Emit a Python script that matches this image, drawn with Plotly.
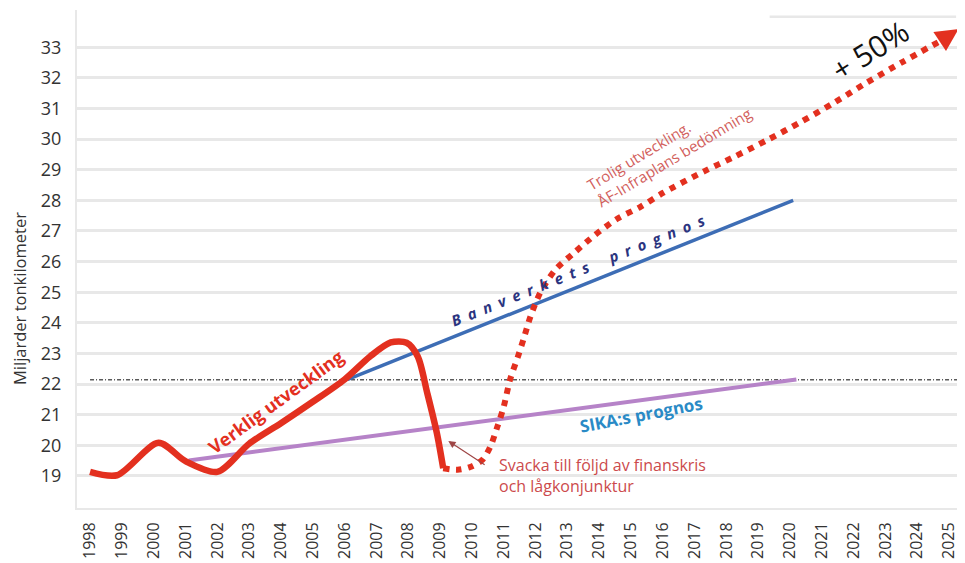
import plotly.graph_objects as go

# ---- data ----
years = list(range(1998, 2026))
year_labels = [str(y) for y in years]
y_ticks = list(range(19, 34))

actual_x = [1998.0, 1998.85, 2000.15, 2001.0, 2002.0, 2003.0, 2004.0, 2005.0, 2006.0,
            2006.8, 2007.45, 2007.95, 2008.3, 2008.6, 2008.9, 2009.1]
actual_y = [19.13, 19.02, 20.08, 19.48, 19.13, 20.05, 20.72, 21.42, 22.15,
            22.9, 23.36, 23.35, 22.9, 21.7, 20.4, 19.25]

likely_x = [2009.1, 2009.55, 2009.95, 2010.33, 2010.58, 2010.8, 2011.0, 2011.2, 2011.45,
            2011.65, 2011.84, 2012.15, 2012.62, 2013.25, 2013.88, 2014.57, 2015.3, 2016.02,
            2017.3, 2018.2, 2019.3, 2020.3, 2021.4, 2022.4, 2023.5, 2024.75]
likely_y = [19.25, 19.2, 19.29, 19.52, 19.95, 20.6, 21.25, 22.14, 22.9,
            23.55, 24.2, 24.98, 25.73, 26.32, 26.88, 27.4, 27.79, 28.25,
            28.95, 29.4, 29.98, 30.54, 31.2, 31.84, 32.5, 33.22]
arrow_tip = (2025.3, 33.6)

banverket_x = [2006.1, 2020.1]
banverket_y = [22.15, 28.0]

sika_x = [2001.1, 2020.2]
sika_y = [19.5, 22.15]

ref_level = 22.14

RED = "#e3301f"
BLUE = "#3d6db5"
PURPLE = "#b683c8"
FONT = "Open Sans"

fig = go.Figure()

# reference dotted level
fig.add_trace(go.Scatter(x=[1998.0, 2025.3], y=[ref_level, ref_level], mode="lines",
                         line=dict(color="#5a5a5a", width=1.3, dash="4px,2px,1px,2px"),
                         hoverinfo="skip", showlegend=False))
fig.add_trace(go.Scatter(x=sika_x, y=sika_y, mode="lines",
                         line=dict(color=PURPLE, width=4), showlegend=False))
fig.add_trace(go.Scatter(x=banverket_x, y=banverket_y, mode="lines",
                         line=dict(color=BLUE, width=3.5), showlegend=False))
fig.add_trace(go.Scatter(x=likely_x, y=likely_y, mode="lines",
                         line=dict(color=RED, width=6, dash="6px,6.5px", shape="spline", smoothing=0.8),
                         showlegend=False))
fig.add_trace(go.Scatter(x=actual_x, y=actual_y, mode="lines",
                         line=dict(color=RED, width=6.5, shape="spline", smoothing=0.8),
                         showlegend=False))

ann = []
ann.append(dict(x=arrow_tip[0], y=arrow_tip[1], ax=likely_x[-1], ay=likely_y[-1],
                xref="x", yref="y", axref="x", ayref="y", text="", showarrow=True,
                arrowhead=2, arrowsize=1.3, arrowwidth=3.5, arrowcolor=RED))
ann.append(dict(x=2003.82, y=21.42, text="<b>Verklig utveckling</b>", showarrow=False,
                textangle=-36, font=dict(family=FONT, size=18, color=RED)))
spaced = "\u2002".join("Banverkets") + "\u2002\u2002\u2002" + "\u2002".join("prognos")
ann.append(dict(x=2013.35, y=25.72, text="<b><i>" + spaced + "</i></b>", showarrow=False,
                textangle=-22, font=dict(family=FONT, size=15, color="#2b347f")))
ann.append(dict(x=2015.33, y=20.99, text="<b>SIKA:s prognos</b>", showarrow=False,
                textangle=-11, font=dict(family=FONT, size=17, color="#2a8ac6")))
ann.append(dict(x=2010.8, y=19.02, xanchor="left", align="left",
                text="Svacka till följd av finanskris<br>och lågkonjunktur", showarrow=False,
                font=dict(family=FONT, size=16, color="#cc4a4c")))
ann.append(dict(x=2009.26, y=20.14, ax=2010.45, ay=19.33, xref="x", yref="y",
                axref="x", ayref="y", text="", showarrow=True, arrowhead=2,
                arrowsize=1.2, arrowwidth=1.2, arrowcolor="#9e4646"))
ann.append(dict(x=2016.2, y=29.68, text="Trolig utveckling.<br>ÅF-Infraplans bedömning",
                showarrow=False, align="left", textangle=-31,
                font=dict(family=FONT, size=15, color="#d2605c")))
ann.append(dict(x=2022.5, y=32.9, text="+ 50%", showarrow=False, textangle=-32,
                font=dict(family=FONT, size=30, color="#111111")))
ann.append(dict(x=-0.064, y=0.42, xref="paper", yref="paper", xanchor="center", yanchor="middle",
                text="Miljarder tonkilometer", showarrow=False, textangle=-90,
                font=dict(family=FONT, size=16.5, color="#333333")))

# the page body adds an 8px offset; size the figure so the plot lands where the reference has it
fig.update_layout(
    width=957, height=555,
    margin=dict(l=69, r=0, t=2, b=55),
    paper_bgcolor="white", plot_bgcolor="white",
    annotations=ann,
    font=dict(family=FONT, color="#333333"),
    shapes=[dict(type="line", xref="paper", yref="y", x0=0.78, x1=0.99, y0=34, y1=34,
                 line=dict(color="#e8e8e8", width=2.5), layer="below")],
)
fig.update_xaxes(range=[1997.59, 2025.5], tickvals=years, ticktext=year_labels,
                 tickangle=-90, tickfont=dict(size=16, color="#333333"),
                 showgrid=False, zeroline=False, showline=True, linecolor="#e8e8e8",
                 linewidth=2, ticks="", ticklabelstandoff=6)
fig.update_yaxes(range=[17.95, 34.22], tickvals=y_ticks, ticktext=[str(v) for v in y_ticks],
                 tickfont=dict(size=18, color="#333333"), showgrid=True,
                 gridcolor="#e8e8e8", gridwidth=2.5, zeroline=False, showline=True,
                 linecolor="#e8e8e8", linewidth=2, ticks="", ticklabelstandoff=10)

fig.write_html("out.html")
